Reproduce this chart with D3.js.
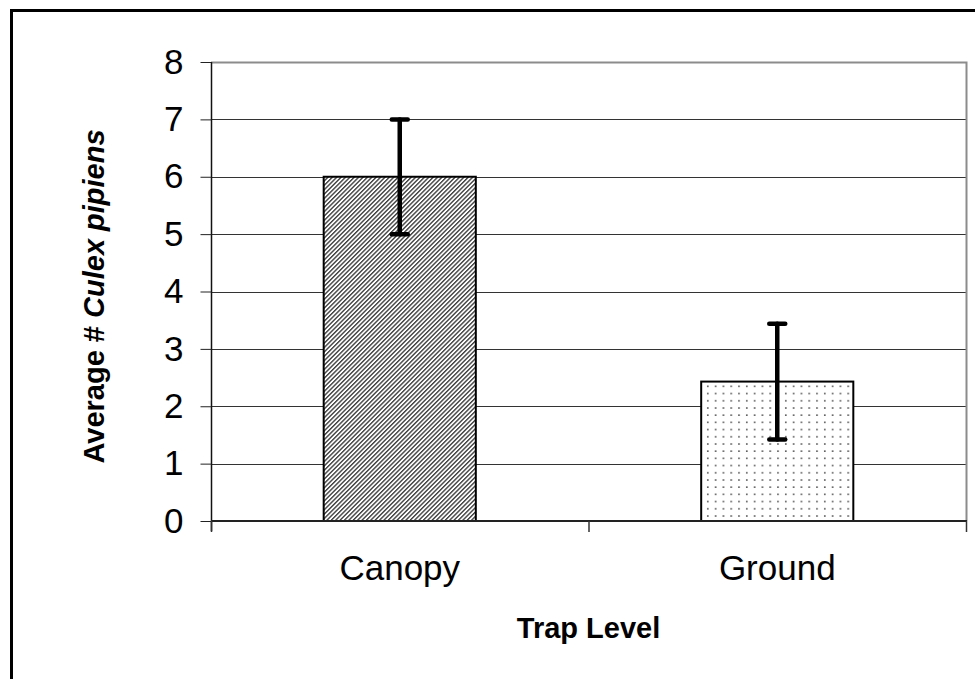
<!DOCTYPE html>
<html>
<head>
<meta charset="utf-8">
<script src="https://cdn.jsdelivr.net/npm/d3@7"></script>
<style>
  body { margin: 0; background: #fff; }
  text { font-family: Arial, "Liberation Sans", sans-serif; }
</style>
</head>
<body>
<svg id="chart" width="975" height="679"></svg>
<script>
var svg = d3.select("#chart");

// data
var categories = ["Canopy", "Ground"];
var means = [6, 2.43];
var errors = [1, 1.01];
var yTicks = [0, 1, 2, 3, 4, 5, 6, 7, 8];
var xTitle = "Trap Level";

// plot area (no "top" - window.top is read-only)
var plotLeft = 211, plotRight = 966, plotTop = 62, plotBottom = 521;

var x = d3.scaleBand()
  .domain(categories)
  .range([plotLeft, plotRight])
  .paddingInner(0.597)
  .paddingOuter(0.2985);

var y = d3.scaleLinear()
  .domain([0, 8])
  .range([plotBottom, plotTop]);

// patterns
var defs = svg.append("defs");
var hatch = defs.append("pattern")
  .attr("id", "hatch")
  .attr("patternUnits", "userSpaceOnUse")
  .attr("width", 3.1)
  .attr("height", 3.1)
  .attr("patternTransform", "rotate(45)");
hatch.append("rect").attr("width", 3.1).attr("height", 3.1).attr("fill", "#fff");
hatch.append("line")
  .attr("x1", 0.7).attr("y1", 0).attr("x2", 0.7).attr("y2", 3.1)
  .attr("stroke", "#3a3a3a").attr("stroke-width", 1.35);

var dots = defs.append("pattern")
  .attr("id", "dots")
  .attr("patternUnits", "userSpaceOnUse")
  .attr("x", 3).attr("y", 2)
  .attr("width", 7.8)
  .attr("height", 7.2);
dots.append("rect").attr("width", 7.8).attr("height", 7.2).attr("fill", "#fff");
dots.append("rect").attr("x", 2).attr("y", 2).attr("width", 1.6).attr("height", 1.6).attr("fill", "#555");

var fills = ["url(#hatch)", "url(#dots)"];

// outer frame
svg.append("rect")
  .attr("x", 11.5).attr("y", 10.5)
  .attr("width", 1000).attr("height", 700)
  .attr("fill", "none").attr("stroke", "#000").attr("stroke-width", 3);

// gridlines
svg.append("g")
  .selectAll("line")
  .data(yTicks.filter(function (d) { return d > 0 && d < 8; }))
  .join("line")
  .attr("x1", plotLeft).attr("x2", plotRight)
  .attr("y1", function (d) { return Math.round(y(d)) + 0.5; })
  .attr("y2", function (d) { return Math.round(y(d)) + 0.5; })
  .attr("stroke", "#333").attr("stroke-width", 1);

// plot border top/right (grey)
svg.append("path")
  .attr("d", "M" + plotLeft + "," + (plotTop + 0.5) + "H" + (plotRight + 0.5) + "V" + plotBottom)
  .attr("fill", "none").attr("stroke", "#8c8c8c").attr("stroke-width", 2);

// bars
svg.append("g")
  .selectAll("rect")
  .data(categories)
  .join("rect")
  .attr("x", function (d) { return x(d); })
  .attr("y", function (d, i) { return y(means[i]); })
  .attr("width", x.bandwidth())
  .attr("height", function (d, i) { return y(0) - y(means[i]); })
  .attr("fill", function (d, i) { return fills[i]; })
  .attr("stroke", "#000").attr("stroke-width", 2);

// y axis
var leftAxis = d3.axisLeft(y)
  .tickValues(yTicks)
  .tickSize(11)
  .tickPadding(17)
  .tickFormat(d3.format("d"));
var gy = svg.append("g")
  .attr("transform", "translate(" + (plotLeft + 0.5) + ",0)")
  .call(leftAxis);
gy.select(".domain").attr("d", "M0," + plotTop + "V" + (plotBottom + 10)).attr("stroke", "#111").attr("stroke-width", 1.5);
gy.selectAll(".tick line").attr("stroke", "#222");
gy.selectAll(".tick text")
  .attr("font-size", 35)
  .attr("fill", "#000")
  .attr("font-family", "Arial, 'Liberation Sans', sans-serif");

// x axis
var xAxis = d3.axisBottom(x).tickSize(0).tickPadding(34);
var gx = svg.append("g")
  .attr("transform", "translate(0," + plotBottom + ")")
  .call(xAxis);
gx.select(".domain").attr("d", "M" + plotLeft + ",0H" + (plotRight + 1)).attr("stroke", "#222").attr("stroke-width", 2);
gx.selectAll(".tick text")
  .attr("font-size", 35)
  .attr("fill", "#000")
  .attr("font-family", "Arial, 'Liberation Sans', sans-serif");

// category separators on x axis
var step = x.step();
var bounds = [plotLeft].concat(categories.map(function (d) { return x(d) + x.bandwidth() / 2 + step / 2; }));
gx.selectAll(".sep")
  .data(bounds)
  .join("line")
  .attr("class", "sep")
  .attr("x1", function (d) { return d + 0.5; })
  .attr("x2", function (d) { return d + 0.5; })
  .attr("y1", 0).attr("y2", 11)
  .attr("stroke", "#333").attr("stroke-width", 1.5);

// error bars
var eb = svg.append("g")
  .attr("stroke", "#000")
  .attr("stroke-width", 4.5)
  .attr("stroke-linecap", "round");
categories.forEach(function (c, i) {
  var cx = x(c) + x.bandwidth() / 2;
  var hi = y(means[i] + errors[i]);
  var lo = y(means[i] - errors[i]);
  eb.append("line").attr("x1", cx).attr("x2", cx).attr("y1", hi).attr("y2", lo);
  eb.append("line").attr("x1", cx - 8).attr("x2", cx + 8).attr("y1", hi).attr("y2", hi);
  eb.append("line").attr("x1", cx - 8).attr("x2", cx + 8).attr("y1", lo).attr("y2", lo);
});

// axis titles
svg.append("text")
  .attr("x", (plotLeft + plotRight) / 2)
  .attr("y", 638)
  .attr("text-anchor", "middle")
  .attr("font-size", 29)
  .attr("font-weight", "bold")
  .text(xTitle);

var yTitle = svg.append("text")
  .attr("transform", "translate(104," + ((plotTop + plotBottom) / 2 + 5) + ")rotate(-90)")
  .attr("text-anchor", "middle")
  .attr("font-size", 29)
  .attr("font-weight", "bold");
yTitle.append("tspan").text("Average # ");
yTitle.append("tspan").attr("font-style", "italic").text("Culex pipiens");
</script>
</body>
</html>
